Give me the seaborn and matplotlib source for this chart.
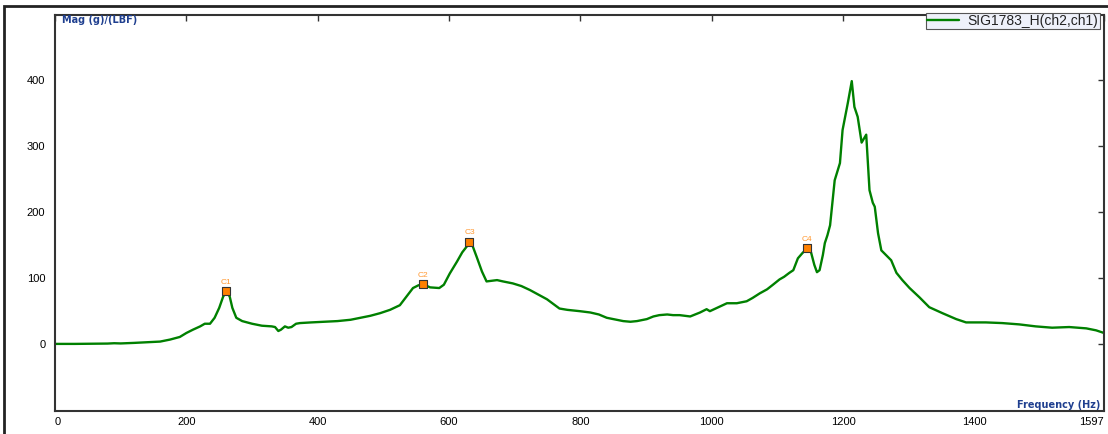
import matplotlib
matplotlib.use("Agg")
import matplotlib.pyplot as plt
import seaborn as sns
import pandas as pd
from matplotlib.patches import Rectangle

# FRF magnitude trace
freq_hz = [0, 30, 60, 80, 90, 100, 120, 140, 160, 175, 190, 200, 210, 221, 228, 236,
           243, 250, 256, 261, 266, 270, 276, 285, 300, 315, 330, 335, 340, 344, 350,
           355, 360, 367, 373, 390, 410, 430, 450, 465, 480, 495, 510, 525, 535, 545,
           553, 560, 571, 585, 592, 601, 612, 620, 627, 631, 636, 642, 650, 657, 665,
           673, 682, 697, 710, 723, 736, 749, 760, 768, 780, 799, 815, 828, 840, 855,
           865, 876, 886, 901, 911, 920, 932, 941, 951, 967, 982, 992, 997, 1010, 1023,
           1038, 1053, 1062, 1073, 1084, 1093, 1103, 1110, 1118, 1124, 1131, 1138, 1145,
           1151, 1156, 1160, 1164, 1169, 1172, 1176, 1180, 1187, 1195, 1199, 1207, 1213,
           1217, 1222, 1228, 1232, 1235, 1240, 1245, 1248, 1253, 1258, 1264, 1273, 1281,
           1290, 1301, 1316, 1331, 1351, 1372, 1387, 1417, 1442, 1468, 1493, 1518, 1544,
           1570, 1585, 1597]
mag = [0.5, 0.5, 0.8, 1, 1.5, 1.2, 2, 3, 4, 7, 11, 17, 22, 27, 31, 31,
       40, 55, 72, 80, 72, 55, 40, 35, 31, 28, 27, 26, 20, 22, 27,
       25, 26, 31, 32, 33, 34, 35, 37, 40, 43, 47, 52, 59, 72, 85,
       89, 91, 86, 85, 90, 107, 125, 139, 148, 155, 148, 132, 110, 95, 96,
       97, 95, 92, 88, 82, 75, 68, 60, 54, 52, 50, 48, 45, 40, 37,
       35, 34, 35, 38, 42, 44, 45, 44, 44, 42, 48, 53, 50, 56, 62,
       62, 65, 70, 77, 83, 90, 98, 102, 108, 112, 130, 138, 145,
       139, 120, 109, 112, 135, 153, 165, 180, 248, 274, 324, 365, 398,
       359, 344, 305, 312, 317, 233, 214, 208, 168, 142, 136, 127, 108,
       97, 85, 71, 56, 47, 38, 33, 33, 32, 30, 27, 25, 26,
       24, 21, 17]

cursor_labels = ["C1", "C2", "C3", "C4"]
cursor_hz = [261, 560, 631, 1145]
cursor_mag = [80, 91, 155, 145]

x_ticks = [0, 200, 400, 600, 800, 1000, 1200, 1400, 1597]
y_ticks = [0, 100, 200, 300, 400]

df = pd.DataFrame({"Frequency": freq_hz, "Mag": mag})

sns.set_style("white")
plt.rcParams["font.family"] = ["Liberation Sans", "DejaVu Sans"]

fig = plt.figure(figsize=(11.08, 4.34), dpi=100)
ax = fig.add_axes([55 / 1108, 1 - 411 / 434, 1049 / 1108, 396 / 434])

sns.lineplot(data=df, x="Frequency", y="Mag", color="#008000", linewidth=1.7,
             sort=False, ax=ax, label="SIG1783_H(ch2,ch1)")

# cursor markers
ax.scatter(cursor_hz, cursor_mag, marker="s", s=34, facecolor="#ff8000",
           edgecolor="#333333", linewidth=0.8, zorder=5)
for lab, cx, cy in zip(cursor_labels, cursor_hz, cursor_mag):
    ax.annotate(lab, (cx, cy), xytext=(0, 4), textcoords="offset points",
                ha="center", va="bottom", fontsize=6, color="#ff9933")

ax.set_xlim(0, 1597)
ax.set_ylim(-101, 498)
ax.set_xticks(x_ticks)
ax.set_xticklabels([str(t) for t in x_ticks])
ax.set_yticks(y_ticks)
ax.tick_params(direction="in", length=4, width=1, colors="#333333",
               labelcolor="black", labelsize=8, top=True, right=True)
ax.tick_params(axis="x", pad=4)
ax.tick_params(axis="y", pad=7)
labs = ax.get_xticklabels()
labs[0].set_ha("left")
labs[-1].set_ha("right")

for sp in ax.spines.values():
    sp.set_color("#333333")
    sp.set_linewidth(1.5)

ax.set_xlabel("")
ax.set_ylabel("")
ax.text(0.007, 0.987, "Mag (g)/(LBF)", transform=ax.transAxes, ha="left", va="center",
        fontsize=7, fontweight="bold", color="#1f3f8f", family="DejaVu Sans")
ax.text(0.997, 0.015, "Frequency (Hz)", transform=ax.transAxes, ha="right", va="center",
        fontsize=7, fontweight="bold", color="#1f3f8f", family="DejaVu Sans")

leg = ax.legend(loc="upper right", bbox_to_anchor=(0.996, 1.006), fontsize=10,
                frameon=True, fancybox=False, borderpad=0.1, handlelength=2.3,
                handletextpad=0.6, borderaxespad=0)
leg.get_frame().set_facecolor("#eef1fa")
leg.get_frame().set_edgecolor("#555555")
leg.get_frame().set_linewidth(0.8)
leg.get_frame().set_alpha(1)
for t in leg.get_texts():
    t.set_color("#222222")

# outer frame of the window
fig.add_artist(Rectangle((4 / 1108, -0.05), 1.2, 1 - 6 / 434 + 0.05, transform=fig.transFigure,
                         fill=False, edgecolor="#222222", linewidth=2))

fig.savefig("out.png", dpi=100)
